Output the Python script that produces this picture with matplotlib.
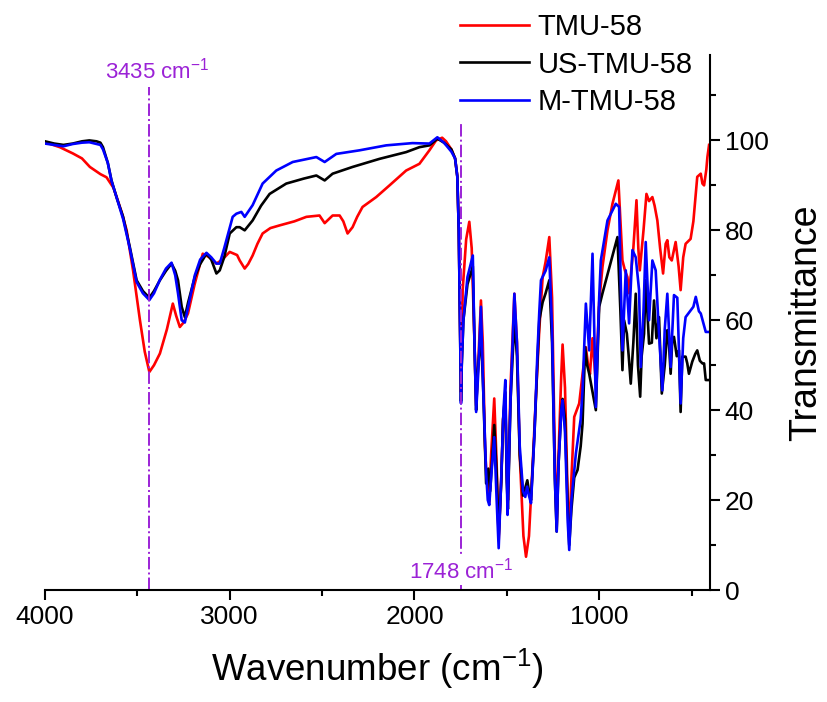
import numpy as np
import matplotlib
matplotlib.use('Agg')
import matplotlib.pyplot as plt
from matplotlib.ticker import MultipleLocator

plt.rcParams['font.family'] = ['Liberation Sans', 'DejaVu Sans']
plt.rcParams['mathtext.fontset'] = 'custom'
plt.rcParams['mathtext.rm'] = 'Liberation Sans'
plt.rcParams['mathtext.it'] = 'Liberation Sans'

# TMU-58 (red)
tmu_wn = [4000, 3920, 3849, 3800, 3757, 3700, 3667, 3630, 3612, 3585, 3558, 3523, 3486, 3460, 3435,
          3410, 3378, 3340, 3308, 3290, 3270, 3250, 3226, 3190, 3146, 3110, 3072, 3040, 3000, 2960,
          2946, 2919, 2900, 2876, 2850, 2822, 2780, 2730, 2650, 2585, 2514, 2486, 2443, 2405, 2385,
          2362, 2335, 2310, 2281, 2207, 2135, 2045, 1973, 1919, 1883, 1850, 1829, 1800, 1780, 1768,
          1760, 1752, 1748, 1744, 1739, 1720, 1703, 1690, 1675, 1666, 1655, 1640, 1630, 1618, 1612,
          1605, 1595, 1585, 1568, 1555, 1544, 1530, 1520, 1508, 1500, 1494, 1480, 1459, 1445, 1430,
          1410, 1396, 1380, 1360, 1340, 1324, 1306, 1290, 1270, 1255, 1240, 1230, 1220, 1205, 1198,
          1185, 1170, 1162, 1150, 1135, 1108, 1090, 1072, 1060, 1050, 1036, 1025, 1018, 1000, 982,
          955, 928, 896, 885, 874, 860, 847, 838, 815, 798, 788, 780, 760, 744, 730, 712, 700, 685,
          670, 654, 640, 631, 620, 607, 586, 570, 559, 545, 532, 505, 490, 469, 450, 441, 432, 420,
          414, 405]
tmu_t = [99.6, 98.5, 97.1, 96.0, 94.1, 92.5, 91.8, 89.5, 87.4, 84.0, 80.0, 71.0, 60.0, 53.0, 48.5,
         50.0, 52.6, 58.0, 63.7, 61.0, 58.5, 59.5, 61.5, 68.0, 74.8, 74.0, 72.6, 73.5, 75.2, 74.5,
         73.3, 71.5, 72.5, 74.4, 77.0, 79.3, 80.5, 81.1, 82.0, 83.0, 83.3, 81.6, 83.3, 83.3, 82.0,
         79.3, 80.7, 83.0, 85.2, 87.4, 90.0, 93.3, 94.8, 97.8, 100.0, 100.6, 99.8, 98.0, 96.0, 92.0,
         80.0, 55.0, 44.0, 52.0, 66.7, 78.0, 81.9, 76.0, 55.0, 41.0, 50.0, 64.4, 55.0, 32.0, 27.0,
         24.0, 19.5, 30.0, 42.6, 28.0, 11.0, 25.0, 38.0, 42.0, 26.0, 20.0, 45.0, 65.9, 55.0, 30.0,
         12.0, 7.4, 12.0, 28.0, 45.0, 58.0, 69.6, 73.0, 78.5, 65.0, 30.0, 14.0, 30.0, 48.0, 54.6,
         45.0, 20.0, 11.9, 25.0, 38.5, 41.5, 48.0, 54.0, 50.0, 48.0, 56.0, 50.0, 46.0, 64.0, 71.9,
         80.0, 85.9, 91.1, 82.0, 73.3, 71.0, 69.6, 66.0, 76.0, 86.7, 76.0, 71.1, 80.0, 88.1, 86.5,
         87.4, 85.5, 82.2, 76.0, 70.4, 77.0, 77.8, 74.0, 73.3, 77.4, 72.0, 66.7, 74.0, 77.0, 78.1,
         82.0, 91.9, 92.6, 90.4, 90.0, 93.5, 96.3, 99.0]

# US-TMU-58 (black)
us_wn = [4000, 3950, 3900, 3850, 3800, 3760, 3721, 3700, 3686, 3660, 3640, 3610, 3577, 3541, 3504,
         3470, 3435, 3410, 3378, 3345, 3315, 3295, 3280, 3260, 3243, 3225, 3189, 3160, 3126, 3100,
         3072, 3054, 3030, 3000, 2964, 2946, 2919, 2876, 2830, 2784, 2694, 2600, 2531, 2486, 2443,
         2335, 2189, 2045, 1973, 1919, 1876, 1840, 1800, 1780, 1768, 1760, 1752, 1748, 1744, 1735,
         1713, 1684, 1675, 1666, 1658, 1640, 1628, 1612, 1600, 1590, 1578, 1568, 1555, 1544, 1530,
         1520, 1508, 1500, 1494, 1480, 1459, 1445, 1430, 1412, 1405, 1389, 1380, 1369, 1350, 1335,
         1324, 1306, 1290, 1270, 1255, 1240, 1230, 1220, 1205, 1198, 1185, 1170, 1162, 1150, 1135,
         1117, 1100, 1090, 1076, 1065, 1054, 1040, 1018, 1000, 982, 930, 901, 885, 874, 865, 850,
         840, 829, 815, 802, 790, 778, 770, 757, 748, 730, 715, 703, 690, 676, 661, 645, 631, 622,
         613, 605, 595, 580, 568, 559, 550, 532, 523, 514, 496, 480, 469, 455, 441, 432, 423, 414,
         405]
us_t = [99.8, 99.3, 99.0, 99.3, 99.8, 100.0, 99.8, 99.5, 98.5, 95.0, 91.1, 87.0, 83.0, 76.3, 68.9,
        66.5, 65.0, 66.5, 68.9, 71.0, 72.6, 71.0, 68.9, 63.0, 60.7, 64.0, 69.6, 72.5, 74.8, 73.5,
        70.4, 71.1, 74.0, 79.3, 80.7, 80.7, 80.0, 82.2, 85.5, 88.1, 90.4, 91.5, 92.2, 91.1, 92.6,
        94.1, 95.9, 97.4, 98.5, 98.9, 100.4, 99.5, 98.0, 96.0, 92.0, 80.0, 55.0, 42.0, 50.0, 60.0,
        68.0, 72.0, 55.0, 40.0, 48.0, 57.0, 45.0, 23.7, 27.0, 22.0, 30.0, 36.7, 26.0, 12.0, 24.0,
        38.0, 44.0, 24.0, 18.0, 42.0, 60.0, 52.0, 30.0, 21.0, 22.0, 24.4, 22.0, 20.0, 35.0, 50.0,
        60.0, 64.0, 66.0, 68.9, 55.0, 25.0, 13.0, 28.0, 40.0, 42.5, 38.0, 18.0, 10.0, 18.0, 25.0,
        26.7, 32.0, 37.0, 54.0, 50.0, 48.1, 45.0, 40.0, 63.0, 66.0, 74.0, 78.5, 62.0, 48.9, 60.0,
        57.0, 52.0, 45.9, 55.0, 65.9, 50.0, 43.0, 52.0, 57.0, 68.9, 54.8, 55.0, 64.4, 56.0, 60.7,
        43.7, 50.0, 57.8, 54.8, 48.1, 55.0, 56.3, 52.0, 53.3, 39.6, 51.9, 51.9, 50.4, 48.1, 50.8,
        52.5, 53.3, 51.0, 50.4, 50.4, 46.7, 46.7, 46.7]

# M-TMU-58 (blue)
m_wn = [4000, 3950, 3900, 3850, 3800, 3760, 3721, 3700, 3686, 3660, 3640, 3610, 3577, 3541, 3504,
        3470, 3435, 3410, 3378, 3345, 3315, 3295, 3280, 3260, 3243, 3225, 3189, 3160, 3126, 3100,
        3072, 3054, 3030, 2984, 2964, 2937, 2919, 2876, 2822, 2748, 2659, 2531, 2486, 2423, 2297,
        2153, 2011, 1919, 1876, 1840, 1800, 1780, 1768, 1760, 1752, 1748, 1744, 1735, 1713, 1684,
        1675, 1666, 1655, 1640, 1628, 1612, 1603, 1595, 1585, 1568, 1555, 1544, 1530, 1518, 1508,
        1500, 1496, 1480, 1459, 1445, 1430, 1412, 1400, 1390, 1380, 1369, 1350, 1335, 1324, 1315,
        1290, 1270, 1255, 1240, 1230, 1220, 1205, 1198, 1185, 1170, 1162, 1150, 1126, 1100, 1090,
        1072, 1054, 1036, 1025, 1018, 1000, 991, 955, 910, 892, 883, 874, 856, 838, 820, 802, 784,
        775, 760, 748, 730, 712, 694, 680, 658, 645, 631, 613, 595, 577, 559, 545, 532, 505, 490,
        477, 460, 450, 440, 423, 405]
m_t = [99.3, 99.0, 98.7, 99.2, 99.5, 99.6, 99.2, 99.0, 98.0, 95.0, 91.0, 87.0, 82.5, 76.0, 68.5,
       66.0, 64.5, 66.0, 69.0, 71.5, 72.8, 70.0, 66.0, 60.0, 59.5, 63.0, 70.0, 73.5, 75.0, 74.0,
       72.6, 72.6, 76.0, 83.0, 83.7, 84.1, 83.0, 85.6, 90.4, 93.3, 95.2, 96.3, 95.2, 97.0, 97.8,
       98.9, 99.4, 99.3, 100.7, 99.5, 97.5, 96.0, 92.0, 80.0, 55.0, 41.5, 50.0, 60.0, 69.6, 74.4,
       55.0, 39.6, 48.0, 63.0, 45.0, 26.0, 20.0, 18.9, 25.0, 34.0, 20.0, 9.3, 25.0, 40.0, 46.7,
       25.0, 16.7, 42.0, 65.9, 55.0, 32.0, 22.0, 20.7, 23.0, 21.0, 19.3, 35.0, 52.0, 62.0, 68.9,
       71.0, 74.0, 58.0, 25.0, 13.0, 28.0, 40.0, 42.2, 35.0, 15.0, 8.9, 20.0, 30.4, 38.0, 44.4,
       63.7, 53.3, 74.8, 55.0, 40.7, 65.0, 73.3, 82.2, 85.9, 85.2, 68.1, 53.3, 71.1, 59.3, 75.6,
       74.0, 66.7, 49.6, 62.0, 77.4, 60.0, 73.3, 71.1, 60.0, 44.4, 58.0, 65.9, 49.6, 65.6, 65.0,
       41.5, 56.0, 60.7, 62.2, 63.0, 65.2, 62.0, 61.5, 60.0, 57.4, 57.4]

series = [("TMU-58", tmu_wn, tmu_t, "#ff0000"),
          ("US-TMU-58", us_wn, us_t, "#000000"),
          ("M-TMU-58", m_wn, m_t, "#0000ff")]

marks = [3435, 1748]
violet = "#9b22d6"

fig = plt.figure(figsize=(8.27, 7.02), dpi=100)
ax = fig.add_axes([45/827, 1-590/702, 665/827, 535/702])

for name, wn, t, col in series:
    ax.plot(wn, t, color=col, linewidth=1.9, label=name)

# peak markers
ax.plot([marks[0], marks[0]], [0, 111.8], color=violet, linestyle='-.', linewidth=1.4)
ax.plot([marks[1], marks[1]], [0, 104], color=violet, linestyle='-.', linewidth=1.4)
ax.text(3390, 115.6, "3435 cm$^{-1}$", color=violet, fontsize=16, ha='center', va='center')
ax.text(marks[1], 4.4, "1748 cm$^{-1}$", color=violet, fontsize=16, ha='center', va='center',
        bbox=dict(facecolor='white', edgecolor='none', pad=1))

ax.set_xlim(4000, 400)
ax.set_ylim(0, 119)
ax.spines['top'].set_visible(False)
ax.spines['left'].set_visible(False)
ax.spines['bottom'].set_linewidth(1.5)
ax.spines['right'].set_linewidth(1.5)
ax.yaxis.tick_right()
ax.yaxis.set_label_position('right')
ax.xaxis.set_major_locator(MultipleLocator(1000))
ax.xaxis.set_minor_locator(MultipleLocator(500))
ax.yaxis.set_minor_locator(MultipleLocator(10))
ax.set_yticks([0, 20, 40, 60, 80, 100])
ax.tick_params(which='major', direction='out', length=7, width=1.5, labelsize=19)
ax.tick_params(which='minor', direction='out', length=4, width=1.5)
ax.set_xlabel("Wavenumber (cm$^{-1}$)", fontsize=26.5, labelpad=13)
ax.set_ylabel("Transmittance", fontsize=27, labelpad=14)

ax.legend(loc='upper left', bbox_to_anchor=(460/827, 1-13/702), bbox_transform=fig.transFigure,
          frameon=False, fontsize=21, borderpad=0, borderaxespad=0, handlelength=2.35,
          handletextpad=0.3, labelspacing=0.33)

fig.savefig("out.png", dpi=100)
